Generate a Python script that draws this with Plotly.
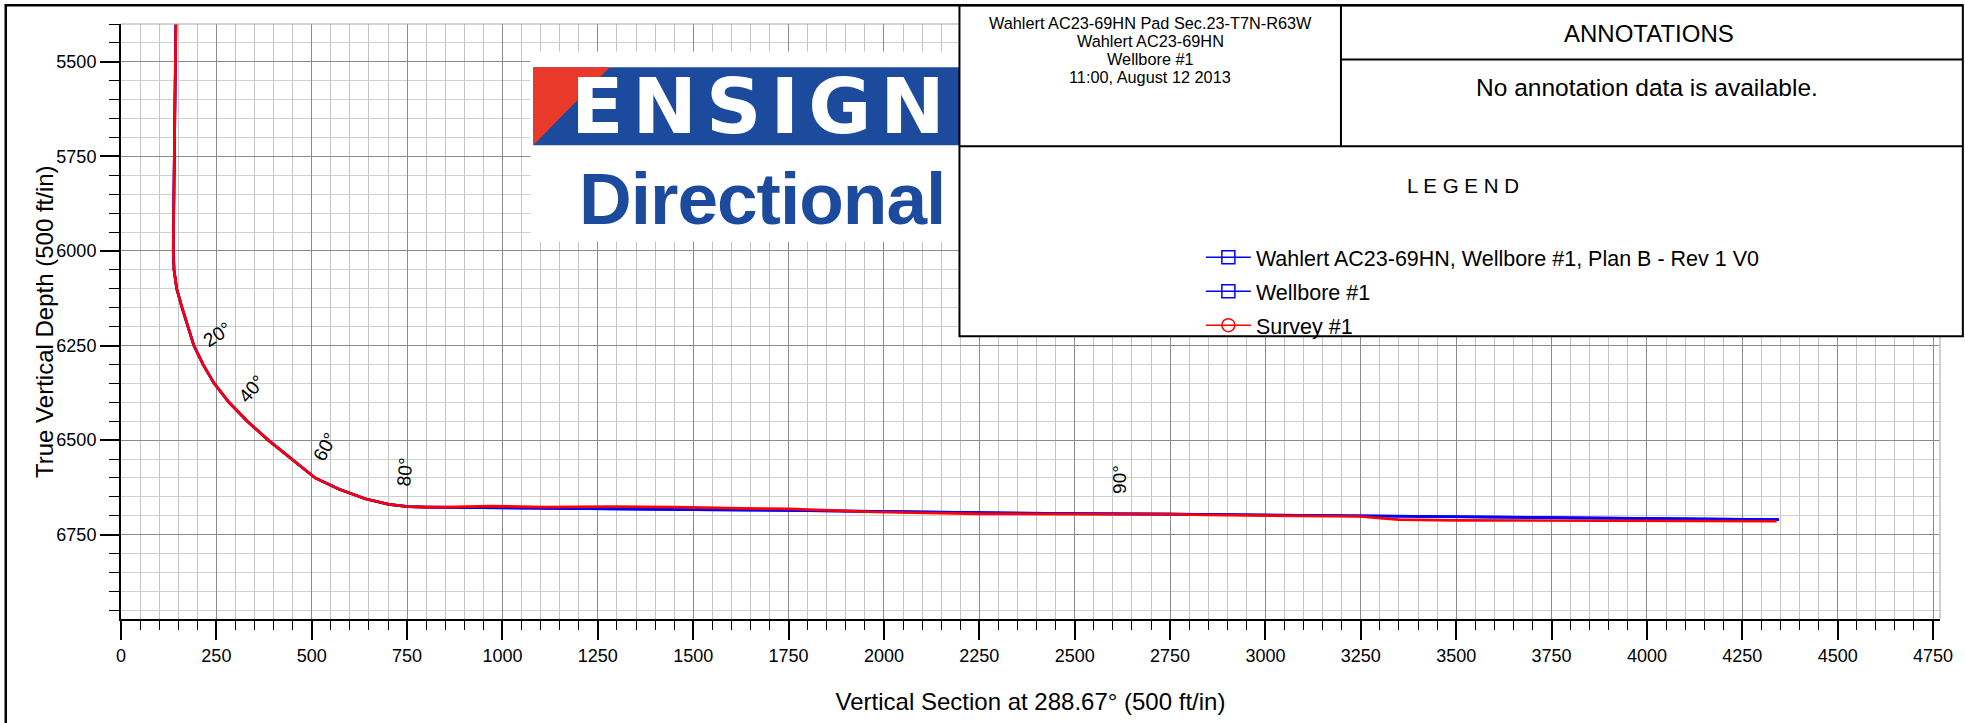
import plotly.graph_objects as go

# ---------------- data ----------------
# Build section shared by plan and survey (vertical section ft, TVD ft)
build_vs = [144, 142, 139, 137, 139, 146, 160, 175, 191, 215, 244, 283, 331, 386,
            446, 509, 572, 640, 702, 752, 800]
build_tvd = [5380, 5600, 5800, 6000, 6050, 6100, 6150, 6200, 6250, 6300, 6350, 6400,
             6450, 6500, 6550, 6600, 6630, 6655, 6670, 6676, 6677]

# Lateral section - plan
plan_lat_vs = [1000, 1250, 1500, 1750, 1976, 2250, 2500, 2750, 3000, 3250, 3500,
               3750, 4000, 4250, 4346]
plan_lat_tvd = [6679.5, 6682, 6684, 6686, 6688.5, 6692.5, 6694.5, 6695.5, 6698,
                6700.5, 6703.5, 6706, 6708.5, 6709.5, 6710]

# Lateral section - survey
survey_lat_vs = [847, 969, 1108, 1281, 1455, 1628, 1750, 1976, 2250, 2500, 2750,
                 2845, 3000, 3250, 3300, 3350, 3500, 3750, 4000, 4250, 4340]
survey_lat_tvd = [6677, 6674.5, 6677, 6675.5, 6677, 6680.5, 6682, 6690, 6695,
                  6695.5, 6695.5, 6698, 6699.5, 6702, 6706, 6710, 6712, 6712.5,
                  6713.5, 6715, 6714.5]

series_names = ["Wahlert AC23-69HN, Wellbore #1, Plan B - Rev 1 V0",
                "Wellbore #1", "Survey #1"]

inc_labels = ["20°", "40°", "60°", "80°", "90°"]
inc_vs = [253, 343, 536, 744, 2619]
inc_tvd = [6221, 6363, 6518, 6583, 6605]
inc_angle = [-33, -49, -62, -85, -90]

header_lines = ["Wahlert AC23-69HN Pad Sec.23-T7N-R63W", "Wahlert AC23-69HN",
                "Wellbore #1", "11:00, August 12 2013"]

x_title = "Vertical Section at 288.67° (500 ft/in)"
y_title = "True Vertical Depth (500 ft/in)"

# ---------------- layout helpers ----------------
W, H = 1965, 723
L, R, T, B = 121, 13, 24, 95
PW, PH = W - L - R, H - T - B
FT_PER_PX = 1 / 0.384
FONT = "Liberation Sans, Arial, Helvetica, sans-serif"


def fx(px):
    return (px - L) / PW


def fy(py):
    return (H - B - py) / PH


plan_vs = build_vs + plan_lat_vs
plan_tvd = build_tvd + plan_lat_tvd
survey_vs = build_vs + survey_lat_vs
survey_tvd = build_tvd + survey_lat_tvd

BLUE = "#0000ff"
RED = "#ff0000"

fig = go.Figure()
# real paths
fig.add_trace(go.Scatter(x=plan_vs, y=plan_tvd, mode="lines", name=series_names[0],
                         line=dict(color=BLUE, width=2.7), showlegend=False))
fig.add_trace(go.Scatter(x=plan_vs, y=plan_tvd, mode="lines", name=series_names[1],
                         line=dict(color=BLUE, width=2.7), showlegend=False))
fig.add_trace(go.Scatter(x=survey_vs, y=survey_tvd, mode="lines", name=series_names[2],
                         line=dict(color=RED, width=2.7), showlegend=False))
# legend entries
symbols = ["square-open", "square-open", "circle-open"]
colors = [BLUE, BLUE, RED]
for i, nm in enumerate(series_names):
    fig.add_trace(go.Scatter(x=[None], y=[None], mode="lines+markers", name=nm,
                             legendgroup=f"g{i}",
                             line=dict(color=colors[i], width=1.5),
                             marker=dict(symbol=symbols[i], size=13, color=colors[i],
                                         line=dict(width=1.5, color=colors[i]))))

x_max = PW * FT_PER_PX
y_min = 5400
y_max = y_min + PH * FT_PER_PX

axis_common = dict(
    showline=True, linecolor="black", linewidth=2, mirror=False,
    ticks="outside", ticklen=19, tickwidth=2, tickcolor="black",
    tick0=0, dtick=250, zeroline=False, ticklabeloverflow="allow",
    tickfont=dict(family=FONT, size=18, color="black"),
)

fig.update_xaxes(range=[0, x_max], showgrid=True, gridcolor="#8c8c8c", gridwidth=1,
                 minor=dict(dtick=50, tick0=0, showgrid=True, gridcolor="#c4c4c4", gridwidth=1,
                            ticks="outside", ticklen=9, tickwidth=1.3, tickcolor="black"),
                 title=dict(text=x_title, font=dict(family=FONT, size=24, color="black"),
                            standoff=29),
                 **axis_common)
fig.update_yaxes(range=[y_max, y_min], showgrid=True, gridcolor="#8c8c8c", gridwidth=1,
                 minor=dict(dtick=50, tick0=0, showgrid=True, gridcolor="#d0d0d0", gridwidth=1.3,
                            ticks="outside", ticklen=10, tickwidth=1.3, tickcolor="black"),
                 **axis_common)

shapes = []
# plot border (top / right) in light grey
shapes.append(dict(type="line", xref="paper", yref="paper", x0=fx(L), x1=fx(W - R),
                   y0=fy(T), y1=fy(T), line=dict(color="#a8a8a8", width=1)))
shapes.append(dict(type="line", xref="paper", yref="paper", x0=fx(W - R), x1=fx(W - R),
                   y0=fy(T), y1=fy(H - B), line=dict(color="#c0c0c0", width=1.5)))
# logo
shapes.append(dict(type="rect", xref="paper", yref="paper", x0=fx(533), x1=fx(965),
                   y0=fy(245), y1=fy(52), fillcolor="white", line=dict(width=0), layer="above"))
shapes.append(dict(type="rect", xref="paper", yref="paper", x0=fx(536), x1=fx(965),
                   y0=fy(147), y1=fy(68), fillcolor="#1c4a9c", line=dict(width=0), layer="above"))
shapes.append(dict(type="path", xref="paper", yref="paper",
                   path=f"M {fx(536)},{fy(68)} L {fx(613)},{fy(68)} L {fx(536)},{fy(147)} Z",
                   fillcolor="#e9392a", line=dict(width=0), layer="above"))
# title block
shapes.append(dict(type="rect", xref="paper", yref="paper", x0=fx(965), x1=fx(1975),
                   y0=fy(341), y1=fy(5), fillcolor="white", line=dict(color="black", width=2),
                   layer="above"))
shapes.append(dict(type="line", xref="paper", yref="paper", x0=fx(1349), x1=fx(1349),
                   y0=fy(148), y1=fy(5), line=dict(color="black", width=2), layer="above"))
shapes.append(dict(type="line", xref="paper", yref="paper", x0=fx(1349), x1=fx(1975),
                   y0=fy(60), y1=fy(60), line=dict(color="black", width=2), layer="above"))
shapes.append(dict(type="line", xref="paper", yref="paper", x0=fx(965), x1=fx(1975),
                   y0=fy(148), y1=fy(148), line=dict(color="black", width=2), layer="above"))
# page frame
shapes.append(dict(type="line", xref="paper", yref="paper", x0=fx(5), x1=fx(5),
                   y0=fy(4), y1=fy(740), line=dict(color="black", width=2.5), layer="above"))
shapes.append(dict(type="line", xref="paper", yref="paper", x0=fx(4), x1=fx(1975),
                   y0=fy(5), y1=fy(5), line=dict(color="black", width=2.5), layer="above"))

annotations = []
# y axis title
annotations.append(dict(x=fx(44), y=0.5, xref="paper", yref="paper", text=y_title,
                        showarrow=False, textangle=-90,
                        font=dict(family=FONT, size=24, color="black"),
                        xanchor="center", yanchor="middle"))
for lab, xv, yv, ang in zip(inc_labels, inc_vs, inc_tvd, inc_angle):
    annotations.append(dict(x=xv, y=yv, xref="x", yref="y", text=lab, showarrow=False,
                            textangle=ang, font=dict(family=FONT, size=19, color="black"),
                            xanchor="center", yanchor="middle"))

header_y = [23.3, 41.7, 60, 78]
for txt, yy in zip(header_lines, header_y):
    annotations.append(dict(x=fx(1157), y=fy(yy), xref="paper", yref="paper", text=txt,
                            showarrow=False, font=dict(family=FONT, size=16.3, color="black"),
                            xanchor="center", yanchor="middle"))
annotations.append(dict(x=fx(1659), y=fy(34), xref="paper", yref="paper", text="ANNOTATIONS",
                        showarrow=False, font=dict(family=FONT, size=24, color="black"),
                        xanchor="center", yanchor="middle"))
annotations.append(dict(x=fx(1657), y=fy(88), xref="paper", yref="paper",
                        text="No annotation data is available.", showarrow=False,
                        font=dict(family=FONT, size=24.5, color="black"),
                        xanchor="center", yanchor="middle"))
annotations.append(dict(x=fx(1472), y=fy(188), xref="paper", yref="paper",
                        text="L E G E N D", showarrow=False,
                        font=dict(family=FONT, size=20.5, color="black"),
                        xanchor="center", yanchor="middle"))
# logo text
annotations.append(dict(x=fx(767), y=fy(108), xref="paper", yref="paper",
                        text='<span style="letter-spacing:9px">ENSIGN</span>', showarrow=False,
                        font=dict(family="DejaVu Sans, sans-serif", size=77, color="white",
                                  weight="bold"),
                        xanchor="center", yanchor="middle"))
annotations.append(dict(x=fx(766), y=fy(201.5), xref="paper", yref="paper",
                        text='<span style="letter-spacing:-1px">Directional</span>', showarrow=False,
                        font=dict(family=FONT, size=73, color="#1c4a9c", weight="bold"),
                        xanchor="center", yanchor="middle"))

fig.update_layout(
    width=W, height=H,
    margin=dict(l=L, r=R, t=T, b=B, pad=0),
    paper_bgcolor="white", plot_bgcolor="white",
    font=dict(family=FONT, color="black"),
    shapes=shapes, annotations=annotations,
    showlegend=True,
    legend=dict(x=fx(1208), y=fy(240), xanchor="left", yanchor="top",
                font=dict(family=FONT, size=21.5, color="black"),
                itemwidth=45, tracegroupgap=3, traceorder="grouped",
                bgcolor="rgba(0,0,0,0)", borderwidth=0),
)

fig.write_html("out.html", config={"displayModeBar": False},
               post_script="document.body.style.margin='0';document.body.style.overflow='hidden';")
